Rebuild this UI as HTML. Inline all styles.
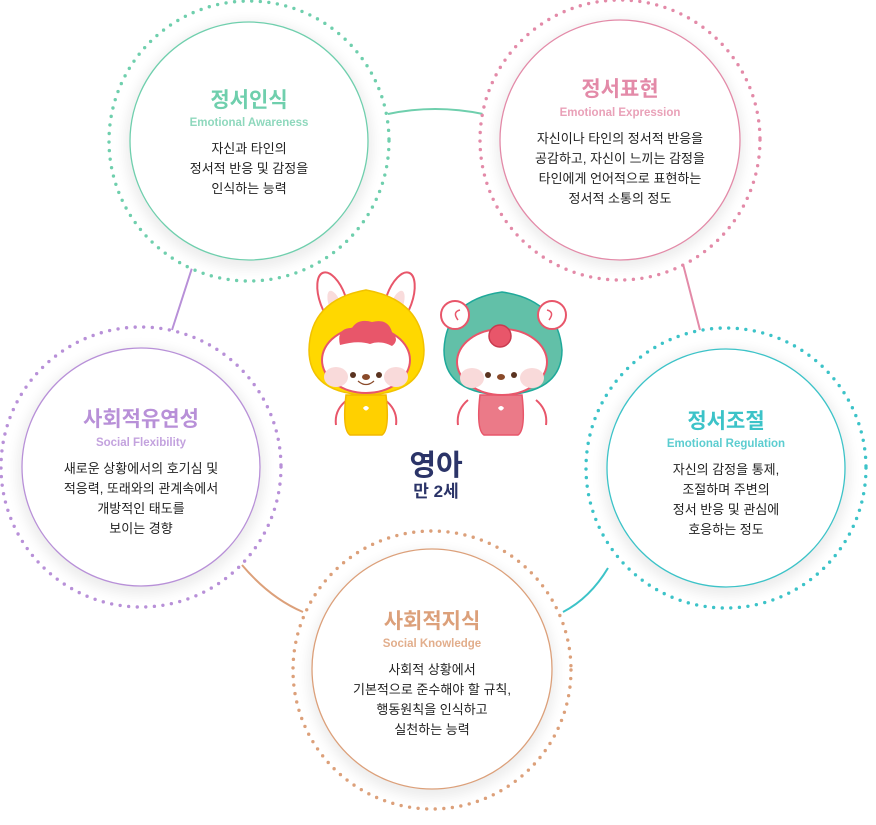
<!DOCTYPE html>
<html><head><meta charset="utf-8"><style>
html,body{margin:0;padding:0;background:#fff;}
body{width:876px;height:820px;overflow:hidden;font-family:"Liberation Sans","Noto Sans CJK KR",sans-serif;}
svg text{font-family:"Liberation Sans","Noto Sans CJK KR",sans-serif;}
.t{font-size:21px;font-weight:bold;text-anchor:middle;}
.s{font-size:11.5px;font-weight:bold;text-anchor:middle;}
.b{font-size:13px;fill:#222;text-anchor:middle;}
.d{fill:none;stroke-width:3.4;stroke-dasharray:0 8.6;stroke-linecap:round;}
</style></head><body>
<svg width="876" height="820" viewBox="0 0 876 820" xmlns="http://www.w3.org/2000/svg">
<defs>
<filter id="sh" x="-20%" y="-20%" width="140%" height="140%"><feGaussianBlur stdDeviation="6"/></filter>
</defs>
<path d="M388 114 Q435 104 483 114" stroke="#6fcfad" stroke-width="2" fill="none"/>
<line x1="192" y1="268" x2="172" y2="330" stroke="#b890d8" stroke-width="2"/>
<line x1="683" y1="264" x2="700" y2="330" stroke="#e38aa8" stroke-width="2"/>
<path d="M608 568 Q590 598 563 612" stroke="#3cc3c8" stroke-width="2" fill="none"/>
<path d="M242 565 Q270 598 303 612" stroke="#dca07a" stroke-width="2" fill="none"/>

<g>
<circle cx="249" cy="141" r="140" fill="#fff"/>
<circle cx="249" cy="145" r="124" fill="#000" opacity="0.07" filter="url(#sh)"/>
<circle cx="249" cy="141" r="140" class="d" stroke="#6fcfad"/>
<circle cx="249" cy="141" r="119" fill="#fff" stroke="#6fcfad" stroke-width="1.3"/>
<text x="249" y="107" class="t" fill="#6fcfad">정서인식</text>
<text x="249" y="126" class="s" fill="#8fd8bd">Emotional Awareness</text>
<text x="249" y="153" class="b">자신과 타인의</text>
<text x="249" y="173" class="b">정서적 반응 및 감정을</text>
<text x="249" y="193" class="b">인식하는 능력</text>
</g>
<g>
<circle cx="620" cy="140" r="140" fill="#fff"/>
<circle cx="620" cy="144" r="124" fill="#000" opacity="0.07" filter="url(#sh)"/>
<circle cx="620" cy="140" r="140" class="d" stroke="#e38aa8"/>
<circle cx="620" cy="140" r="120" fill="#fff" stroke="#e38aa8" stroke-width="1.3"/>
<text x="620" y="96" class="t" fill="#e38aa8">정서표현</text>
<text x="620" y="116" class="s" fill="#e9a1b8">Emotional Expression</text>
<text x="620" y="143" class="b">자신이나 타인의 정서적 반응을</text>
<text x="620" y="163" class="b">공감하고, 자신이 느끼는 감정을</text>
<text x="620" y="183" class="b">타인에게 언어적으로 표현하는</text>
<text x="620" y="203" class="b">정서적 소통의 정도</text>
</g>
<g>
<circle cx="141" cy="467" r="140" fill="#fff"/>
<circle cx="141" cy="471" r="124" fill="#000" opacity="0.07" filter="url(#sh)"/>
<circle cx="141" cy="467" r="140" class="d" stroke="#b890d8"/>
<circle cx="141" cy="467" r="119" fill="#fff" stroke="#b890d8" stroke-width="1.3"/>
<text x="141" y="426" class="t" fill="#b890d8">사회적유연성</text>
<text x="141" y="446" class="s" fill="#c3a2de">Social Flexibility</text>
<text x="141" y="473" class="b">새로운 상황에서의 호기심 및</text>
<text x="141" y="493" class="b">적응력, 또래와의 관계속에서</text>
<text x="141" y="513" class="b">개방적인 태도를</text>
<text x="141" y="533" class="b">보이는 경향</text>
</g>
<g>
<circle cx="726" cy="468" r="140" fill="#fff"/>
<circle cx="726" cy="472" r="124" fill="#000" opacity="0.07" filter="url(#sh)"/>
<circle cx="726" cy="468" r="140" class="d" stroke="#3cc3c8"/>
<circle cx="726" cy="468" r="119" fill="#fff" stroke="#3cc3c8" stroke-width="1.3"/>
<text x="726" y="428" class="t" fill="#3cc3c8">정서조절</text>
<text x="726" y="447" class="s" fill="#5ccdd0">Emotional Regulation</text>
<text x="726" y="474" class="b">자신의 감정을 통제,</text>
<text x="726" y="494" class="b">조절하며 주변의</text>
<text x="726" y="514" class="b">정서 반응 및 관심에</text>
<text x="726" y="534" class="b">호응하는 정도</text>
</g>
<g>
<circle cx="432" cy="670" r="139" fill="#fff"/>
<circle cx="432" cy="674" r="124" fill="#000" opacity="0.07" filter="url(#sh)"/>
<circle cx="432" cy="670" r="139" class="d" stroke="#dca07a"/>
<circle cx="432" cy="669" r="120" fill="#fff" stroke="#dca07a" stroke-width="1.3"/>
<text x="432" y="628" class="t" fill="#dca07a">사회적지식</text>
<text x="432" y="647" class="s" fill="#e2ae8c">Social Knowledge</text>
<text x="432" y="674" class="b">사회적 상황에서</text>
<text x="432" y="694" class="b">기본적으로 준수해야 할 규칙,</text>
<text x="432" y="714" class="b">행동원칙을 인식하고</text>
<text x="432" y="734" class="b">실천하는 능력</text>
</g>

<!-- rabbit -->
<g stroke="#e8566a" stroke-width="2">
<ellipse cx="333" cy="300" rx="13" ry="29" fill="#fff" transform="rotate(-20 333 300)"/>
<ellipse cx="399" cy="300" rx="13" ry="29" fill="#fff" transform="rotate(20 399 300)"/>
</g>
<ellipse cx="335" cy="305" rx="6" ry="15" fill="#f9dcdc" transform="rotate(-20 335 305)"/>
<ellipse cx="397" cy="305" rx="6" ry="15" fill="#f9dcdc" transform="rotate(20 397 305)"/>
<path d="M309 350 Q310 300 366 290 Q422 300 424 350 Q424 393 366 395 Q309 393 309 350Z" fill="#ffd800" stroke="#f2c200" stroke-width="1.5"/>
<path d="M347 400 Q334 410 336 425 M385 400 Q398 410 396 425" stroke="#e8566a" stroke-width="2" fill="#fff"/>
<path d="M346 395 L386 395 Q390 430 382 435 L350 435 Q342 430 346 395Z" fill="#ffd000" stroke="#f2b800" stroke-width="1.5"/>
<ellipse cx="366" cy="360" rx="44" ry="33" fill="#fff" stroke="#e8566a" stroke-width="2"/>
<path d="M340 345 Q336 328 352 328 Q358 318 372 322 Q388 318 392 332 Q400 340 392 346 Q380 340 370 344 Q358 340 340 345Z" fill="#e8566a"/>
<ellipse cx="336" cy="377" rx="12" ry="10" fill="#f9dada"/>
<ellipse cx="396" cy="377" rx="12" ry="10" fill="#f9dada"/>
<circle cx="353" cy="375" r="3" fill="#5a3320"/><circle cx="379" cy="375" r="3" fill="#5a3320"/>
<ellipse cx="366" cy="377" rx="4" ry="3" fill="#8a4a2a"/>
<path d="M358 381 Q366 388 374 381" stroke="#8a4a2a" stroke-width="1.2" fill="none"/>
<path d="M363 408 Q366 404 369 408 Q366 413 363 408Z" fill="#fff"/>

<!-- sheep -->
<path d="M444 350 Q446 300 502 292 Q558 300 562 350 Q562 393 502 395 Q444 393 444 350Z" fill="#62c0a8" stroke="#1fa99a" stroke-width="1.5"/>
<circle cx="455" cy="315" r="14" fill="#fff" stroke="#e8566a" stroke-width="2"/>
<circle cx="552" cy="315" r="14" fill="#fff" stroke="#e8566a" stroke-width="2"/>
<path d="M458 320 Q452 312 460 310" stroke="#e8566a" stroke-width="1.5" fill="none"/>
<path d="M549 320 Q555 312 547 310" stroke="#e8566a" stroke-width="1.5" fill="none"/>
<path d="M468 400 Q456 410 458 425 M536 400 Q548 410 546 425" stroke="#e8566a" stroke-width="2" fill="#fff"/>
<path d="M480 395 L522 395 Q526 430 518 435 L484 435 Q476 430 480 395Z" fill="#eb7a88" stroke="#e8566a" stroke-width="1.5"/>
<ellipse cx="502" cy="362" rx="45" ry="33" fill="#fff" stroke="#e8566a" stroke-width="2"/>
<circle cx="500" cy="336" r="11" fill="#e8566a" stroke="#c93a4e" stroke-width="1.5"/>
<ellipse cx="472" cy="378" rx="12" ry="10" fill="#f9dada"/>
<ellipse cx="532" cy="378" rx="12" ry="10" fill="#f9dada"/>
<circle cx="488" cy="375" r="3" fill="#5a3320"/><circle cx="514" cy="375" r="3" fill="#5a3320"/>
<ellipse cx="501" cy="377" rx="4" ry="3" fill="#8a4a2a"/>
<path d="M498 408 Q501 404 504 408 Q501 413 498 408Z" fill="#fff"/>

<text x="436" y="475" text-anchor="middle" font-size="29" font-weight="bold" fill="#2b3468">영아</text>
<text x="436" y="497" text-anchor="middle" font-size="17" font-weight="bold" fill="#2b3468">만 2세</text>
</svg>
</body></html>
